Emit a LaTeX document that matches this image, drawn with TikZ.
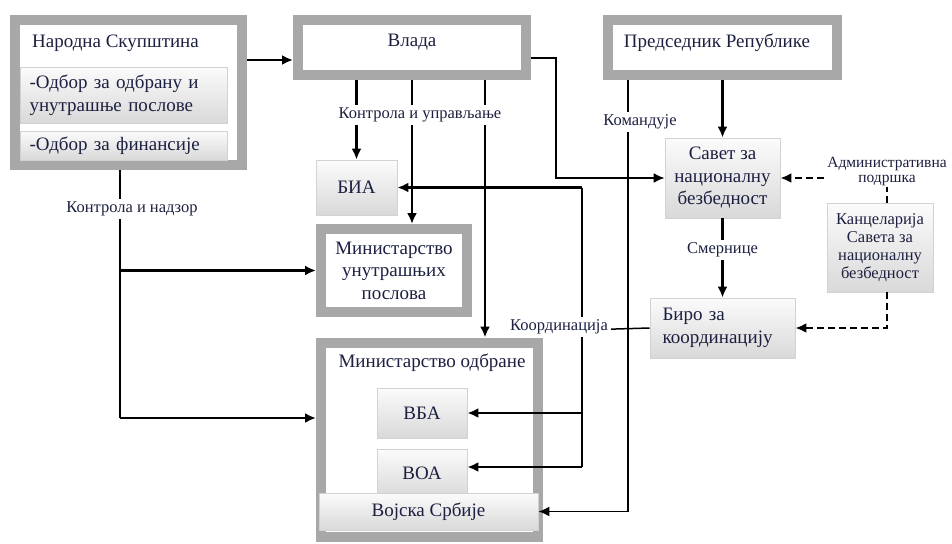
\documentclass[tikz,border=0pt]{standalone}
\usepackage{fontspec}
\setmainfont{Liberation Serif}
\usetikzlibrary{arrows.meta}
\definecolor{frameGray}{RGB}{168,168,168}
\definecolor{boxText}{RGB}{28,32,64}
\tikzset{%
  >={Latex[width=10pt,length=11pt]},
  % Specifications for style of nodes:
         base/.style = {rectangle, inner sep=0pt, text=boxText,
                        font=\fontsize{19}{22.5}\selectfont},
   frameBlock/.style = {base, draw=frameGray, line width=10pt, fill=white,
                        align=center},
     subBlock/.style = {base, draw=gray!35, line width=0.8pt,
                        top color=gray!3, bottom color=gray!30,
                        align=center},
    lineLabel/.style = {base, fill=white, inner sep=3pt, align=center,
                        font=\fontsize{16.5}{17}\selectfont},
  % Specifications for style of lines:
    plainLine/.style = {line width=1.5pt},
    arrowLine/.style = {line width=2.5pt, ->},
     dashLine/.style = {line width=2.5pt, dash pattern=on 7pt off 4pt, ->},
}

\begin{document}
\begin{tikzpicture}[x=1pt, y=-1pt]
  \useasboundingbox (0,0) rectangle (952,543);
  % Specification of nodes (position, etc.)
  \node (narodnaBlock) [frameBlock, minimum width=227pt,
                        minimum height=145pt] at (128.5,92.5) {};
  \node (narodnaText)  [base, anchor=west] at (32,43) {Народна Скупштина};
  \node (odbranaBlock) [subBlock, text width=188pt, inner xsep=9.5pt,
                        align=left, minimum height=56pt] at (123.5,95)
                                    {-Одбор за одбрану и\\унутрашње послове};
  \node (finansBlock)  [subBlock, text width=188pt, inner xsep=9.5pt,
                        align=left, minimum height=29pt] at (123.5,145.5)
                                                    {-Одбор за финансије};
  \node (vladaBlock)   [frameBlock, minimum width=228pt,
                        minimum height=55pt] at (412,47.5) {};
  \node (vladaText)    [base] at (412,42) {Влада};
  \node (presBlock)    [frameBlock, minimum width=229pt,
                        minimum height=55pt] at (722.5,47.5) {};
  \node (presText)     [base] at (717,43) {Председник Републике};
  \node (biaBlock)     [subBlock, minimum width=81pt,
                        minimum height=55pt] at (356.5,187.5) {БИА};
  \node (mupBlock)     [frameBlock, minimum width=146pt,
                        minimum height=83pt] at (394,270.5)
                             {Министарство\\унутрашњих\\послова};
  \node (moBlock)      [frameBlock, minimum width=217pt,
                        minimum height=194pt] at (429.5,439.5) {};
  \node (moText)       [base] at (432,363) {Министарство одбране};
  \node (vbaBlock)     [subBlock, minimum width=90pt,
                        minimum height=50pt] at (422,413) {ВБА};
  \node (voaBlock)     [subBlock, minimum width=90pt,
                        minimum height=48pt] at (422,473) {ВОА};
  \node (vojskaBlock)  [subBlock, minimum width=219pt,
                        minimum height=37pt] at (428.5,511.5) {Војска Србије};
  \node (savetBlock)   [subBlock, minimum width=115pt,
                        minimum height=80pt] at (722.5,178)
                             {Савет за\\националну\\безбедност};
  \node (kancBlock)    [subBlock, minimum width=106pt, minimum height=89pt,
                        font=\fontsize{16.5}{18}\selectfont] at (880,247.5)
                             {Канцеларија\\Савета за\\националну\\безбедност};
  \node (biroBlock)    [subBlock, text width=120pt, inner xsep=12.5pt,
                        align=left, minimum height=60pt] at (722.5,328)
                                               {Биро за\\координацију};
  % Specification of lines between nodes
  \draw[arrowLine] ([yshift=32.5pt]narodnaBlock.east)
                   -- ([yshift=32.5pt]narodnaBlock.east -| vladaBlock.west);
  \draw[arrowLine] (vladaBlock.south -| biaBlock.north) -- (biaBlock.north);
  \draw[arrowLine] (vladaBlock.south) -- (vladaBlock.south |- mupBlock.north);
  \draw[arrowLine] ([xshift=73pt]vladaBlock.south)
                   -- ([xshift=73pt]vladaBlock.south |- moBlock.north);
  \node (upravLabel) [lineLabel] at (420,115) {Контрола и управљање};

  \coordinate (vladaBend) at (556,178);
  \draw[arrowLine, line width=1.8pt] ([yshift=-10.5pt]vladaBlock.east)
                   -| (vladaBend) -- (savetBlock.west);
  \draw[arrowLine] (presBlock.south) -- (savetBlock.north);
  \draw[arrowLine, line width=1.6pt] ([xshift=-94.5pt]presBlock.south)
                   |- (vojskaBlock.east);
  \node (komandLabel) [lineLabel] at (640,122) {Командује};

  \draw[dashLine] ([xshift=7pt]kancBlock.north) |- (savetBlock.east);
  \node (adminLabel) [lineLabel, font=\fontsize{15.5}{15}\selectfont,
                      inner sep=1pt] at (887,172)
                                       {Административна\\подршка};
  \draw[dashLine] ([xshift=7pt]kancBlock.south) |- (biroBlock.east);
  \draw[arrowLine] (savetBlock.south) -- node[lineLabel, pos=0.4]
                                       {Смернице} (biroBlock.north);

  \coordinate (koordJoin) at (582,330);
  \coordinate (voaTip) at ([yshift=6pt]voaBlock.east);
  \draw[plainLine] (biroBlock.west) -- (koordJoin);
  \draw[plainLine] (koordJoin |- biaBlock.east) -- (koordJoin |- voaTip);
  \draw[arrowLine] (koordJoin |- biaBlock.east) -- (biaBlock.east);
  \draw[arrowLine] (koordJoin |- vbaBlock.east) -- (vbaBlock.east);
  \draw[arrowLine] (koordJoin |- voaTip) -- (voaTip);
  \node (koordLabel) [lineLabel] at (559,327) {Координација};

  \coordinate (nadzorTop) at ([xshift=-8.5pt]narodnaBlock.south);
  \coordinate (moTip) at ([yshift=21.5pt]moBlock.west);
  \draw[plainLine] (nadzorTop) -- (nadzorTop |- moTip);
  \draw[arrowLine] (nadzorTop |- mupBlock.west) -- (mupBlock.west);
  \draw[arrowLine] (nadzorTop |- moTip) -- (moTip);
  \node (nadzorLabel) [lineLabel] at (132,209) {Контрола и надзор};
\end{tikzpicture}
\end{document}
